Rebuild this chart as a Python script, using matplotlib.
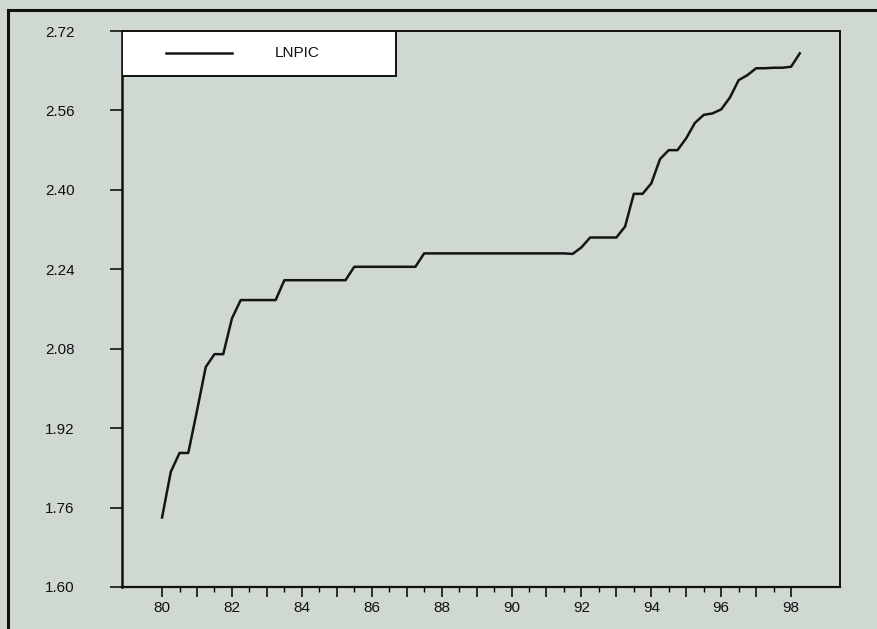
import numpy as np
import matplotlib
matplotlib.use("Agg")
import matplotlib.pyplot as plt
from matplotlib.patches import Rectangle
from matplotlib.lines import Line2D

plt.rcParams["font.family"] = ["Liberation Sans", "DejaVu Sans"]

# quarterly series, 1980Q1 .. 1998Q2 (x in two-digit years)
start_year = 80
lnpic = [1.740, 1.832, 1.870, 1.870, 1.955, 2.043, 2.069, 2.069,
         2.141, 2.178, 2.178, 2.178, 2.178, 2.178, 2.218, 2.218,
         2.218, 2.218, 2.218, 2.218, 2.218, 2.218, 2.245, 2.245,
         2.245, 2.245, 2.245, 2.245, 2.245, 2.245, 2.272, 2.272,
         2.272, 2.272, 2.272, 2.272, 2.272, 2.272, 2.272, 2.272,
         2.272, 2.272, 2.272, 2.272, 2.272, 2.272, 2.272, 2.271,
         2.284, 2.304, 2.304, 2.304, 2.304, 2.326, 2.392, 2.392,
         2.413, 2.462, 2.480, 2.480, 2.504, 2.535, 2.551, 2.554,
         2.562, 2.586, 2.621, 2.631, 2.645, 2.645, 2.646, 2.646,
         2.648, 2.675]
years = start_year + np.arange(len(lnpic)) / 4.0

yticks = [1.60, 1.76, 1.92, 2.08, 2.24, 2.40, 2.56, 2.72]

bg = "#cfd9d2"
fig = plt.figure(figsize=(8.78, 6.29), dpi=100, facecolor=bg)
ax = fig.add_axes([0.139, 0.0668, 0.8177, 0.8839])
ax.set_facecolor(bg)

ax.plot(years, lnpic, color="#151515", lw=1.8)

ax.set_xlim(78.855, 99.40)
ax.set_ylim(1.60, 2.72)
ax.set_yticks(yticks)
ax.set_yticklabels(["%.2f" % v for v in yticks])
ax.set_xticks(np.arange(80, 99, 1))
ax.set_xticklabels([str(y) if y % 2 == 0 else "" for y in range(80, 99)])
ax.set_xticks(np.arange(80.5, 98, 1), minor=True)

ax.tick_params(axis="y", direction="out", length=9, width=1.2, pad=25,
               labelsize=11, colors="#111111")
ax.tick_params(axis="x", which="major", direction="out", length=7, width=1.2,
               pad=3, labelsize=11, colors="#111111")
ax.tick_params(axis="x", which="minor", direction="out", length=3.5, width=1.0)
for s in ax.spines.values():
    s.set_color("#111111")
ax.spines["left"].set_linewidth(1.8)
ax.spines["bottom"].set_linewidth(1.6)
ax.spines["top"].set_linewidth(1.4)
ax.spines["right"].set_linewidth(1.4)

# legend box drawn like the original (wide white box at top-left)
ax.add_patch(Rectangle((0.0, 0.919), 0.3816, 0.081, transform=ax.transAxes,
                       facecolor="white", edgecolor="#111111", lw=1.4, zorder=5))
ax.add_line(Line2D([0.0613, 0.153], [0.960, 0.960], transform=ax.transAxes,
                   color="#151515", lw=1.8, zorder=6))
ax.text(0.213, 0.960, "LNPIC", transform=ax.transAxes, va="center", ha="left",
        fontsize=11, color="#111111", zorder=6)

# outer frame of the scanned figure
fig.add_artist(Line2D([0.0091, 0.0091], [0.0, 0.984], transform=fig.transFigure,
                      color="#111111", lw=2.2))
fig.add_artist(Line2D([0.0091, 1.0], [0.984, 0.984], transform=fig.transFigure,
                      color="#111111", lw=2.2))

fig.savefig("out.png", dpi=100, facecolor=bg)
